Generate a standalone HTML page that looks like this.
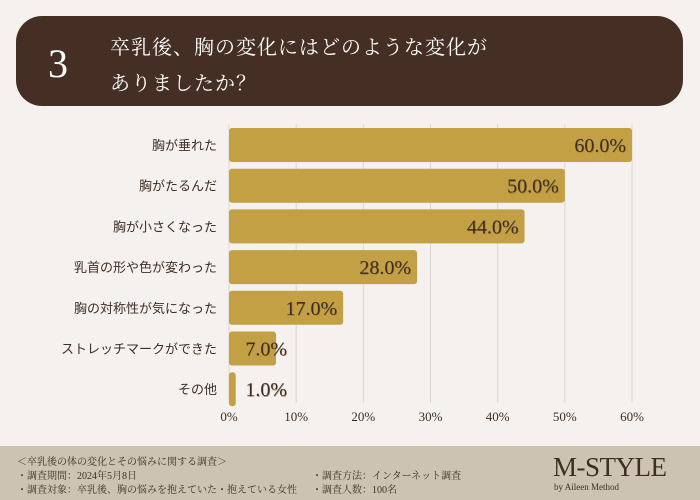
<!DOCTYPE html>
<html><head><meta charset="utf-8">
<style>
body{margin:0;width:700px;height:500px;background:#f5f1ee;position:relative;overflow:hidden;font-family:"Liberation Serif","Noto Serif CJK SC",serif;}
.hdr{position:absolute;left:16px;top:16px;width:667px;height:90px;background:#452f25;border-radius:26px;}
.num{position:absolute;left:48px;top:40px;color:#fff;font-size:40px;}
.ttl{position:absolute;left:110px;top:30px;color:#fff;font-size:20px;line-height:36px;letter-spacing:1px;}
.ftr{position:absolute;left:0;top:446px;width:700px;height:54px;background:#cdc3b2;color:#3e2e25;font-size:10px;}
.ftr div{position:absolute;white-space:nowrap;}
</style></head><body>
<div class="hdr"></div>
<div class="num">3</div>
<div class="ttl">卒乳後、胸の変化にはどのような変化が<br>ありましたか？</div>
<svg id="chart" width="700" height="440" style="position:absolute;left:0;top:0"></svg>
<div class="ftr">
<div style="left:17px;top:7px">＜卒乳後の体の変化とその悩みに関する調査＞</div>
<div style="left:17px;top:21px">・調査期間：2024年5月8日</div>
<div style="left:17px;top:35px">・調査対象：卒乳後、胸の悩みを抱えていた・抱えている女性</div>
<div style="left:312px;top:21px">・調査方法：インターネット調査</div>
<div style="left:312px;top:35px">・調査人数：100名</div>
<div style="left:553px;top:6px;font-size:27px;letter-spacing:-0.5px">M-STYLE</div>
<div style="left:554px;top:36px;font-size:9px">by Aileen Method</div>
</div>
<script>
const categories=["胸が垂れた","胸がたるんだ","胸が小さくなった","乳首の形や色が変わった","胸の対称性が気になった","ストレッチマークができた","その他"];
const values=[60.0,50.0,44.0,28.0,17.0,7.0,1.0];
const ticks=[0,10,20,30,40,50,60];
const NS="http://www.w3.org/2000/svg";
const svg=document.getElementById('chart');
const x0=229,x1=632,xmax=60,y0=128,step=40.7,bh=34;
const xs=v=>x0+(x1-x0)*v/xmax;
const yc=i=>y0+step*i+bh/2;
function mk(t,a){const e=document.createElementNS(NS,t);for(const k in a)e.setAttribute(k,a[k]);svg.appendChild(e);return e;}
ticks.forEach(t=>{
 const l=mk('line',{x1:xs(t),x2:xs(t),y1:124,y2:403,stroke:'#dcd6d0','stroke-width':1});
 
 
 const tx=mk('text',{x:xs(t),y:421,'text-anchor':'middle','font-size':13,fill:'#3e2e25'});
 tx.textContent=t+'%';
 
 
});
categories.forEach((c,i)=>{
 const r=mk('rect',{x:x0,y:yc(i)-bh/2,width:xs(values[i])-x0,height:bh,rx:3,fill:'#c4a044'});
 
 
 const lb=mk('text',{x:217,y:yc(i)+5,'text-anchor':'end','font-size':13,fill:'#3e2e25','font-family':'"Liberation Sans","Noto Sans CJK JP",sans-serif'});
 lb.textContent=c;
 
 
 const vx=Math.max(xs(values[i])-6, x0+58);
 const vl=mk('text',{x:vx,y:yc(i)+7,'text-anchor':'end','font-size':20,fill:'#3e2e25',style:'text-shadow:0.6px 0.6px 0 rgba(120,95,40,0.6)'});
 vl.textContent=values[i].toFixed(1)+'%';
 
 
});
</script>
</body></html>
